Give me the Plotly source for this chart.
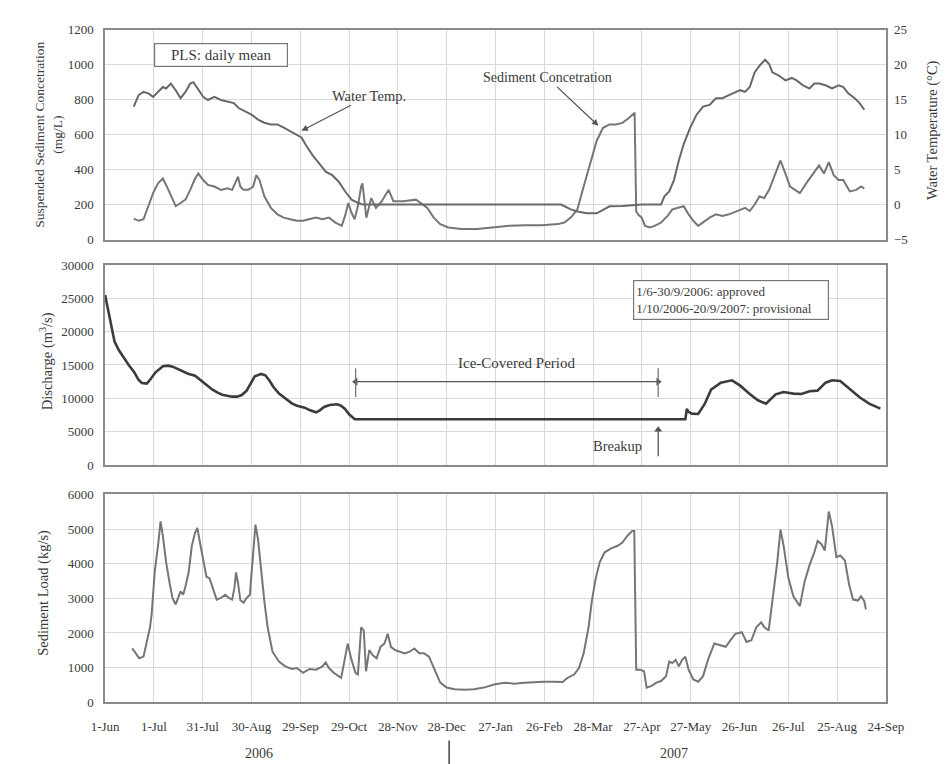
import plotly.graph_objects as go
import pandas as pd

# ---------------- data (days since 1-Jun-2006) ----------------
ssc_days = [17.6, 20.6, 23.6, 26.6, 29.5, 32.5, 35.5, 37.5, 40.4, 43.4, 46.4, 49.4, 52.3, 55.3, 57.3,
            60.3, 63.2, 67.2, 71.2, 75.1, 78.1, 80.1, 81.7, 83.1, 85.0, 88.0, 91.0, 92.9, 94.9, 97.9,
            101.9, 105.9, 109.8, 113.8, 117.8, 121.7, 125.7, 129.6, 133.6, 137.6, 141.6, 145.5, 147.5,
            149.5, 151.5, 153.4, 155.4, 157.4, 158.2, 160.6, 163.6, 166.5, 170.1, 174.3, 177.2, 183.2,
            191.1, 194.1, 198.1, 202.0, 206.0, 211.0, 218.9, 228.8, 238.7, 248.6, 258.6, 268.5, 278.4,
            282.3, 286.3, 290.3, 294.2, 298.2, 302.2, 306.1, 310.1, 314.0, 318.0, 322.0, 325.5, 326.5,
            328.0, 329.9, 331.9, 334.9, 337.8, 341.8, 345.8, 348.7, 352.7, 355.7, 358.7, 361.6, 364.6,
            367.6, 371.6, 375.5, 379.5, 383.5, 388.4, 393.4, 396.3, 399.3, 402.3, 405.2, 408.2, 411.2,
            415.2, 418.2, 421.1, 424.1, 427.1, 431.0, 435.0, 438.9, 441.9, 444.9, 447.9, 450.9, 453.8,
            457.8, 461.8, 464.7, 466.7]
ssc_vals = [119, 107, 116, 191, 265, 321, 349, 312, 247, 191, 209, 228, 284, 349, 377,
            340, 312, 303, 284, 293, 284, 321, 359, 303, 284, 284, 303, 368, 340, 247,
            181, 144, 125, 116, 107, 107, 116, 125, 116, 125, 97, 78, 135,
            209, 153, 116, 191, 303, 321, 125, 237, 181, 219, 284, 219, 219,
            228, 209, 181, 125, 88, 69, 60, 60, 69, 78, 82, 82, 88,
            97, 125, 172, 303, 434, 565, 639, 658, 658, 667, 695, 725, 160,
            140, 125, 78, 69, 78, 97, 135, 172, 181, 191, 144, 107, 78,
            97, 125, 144, 135, 144, 163, 181, 163, 200, 247, 237, 284, 359,
            452, 377, 303, 284, 265, 321, 377, 424, 377, 443, 368, 340, 340,
            275, 284, 303, 293]

temp_days = [17.6, 20.6, 23.6, 26.6, 29.5, 32.5, 35.5, 37.5, 40.4, 43.4, 46.4, 49.4, 52.3, 54.3, 57.3,
             60.3, 63.2, 67.2, 71.2, 75.1, 79.1, 82.1, 86.1, 90.0, 94.0, 97.9, 101.9, 105.9, 109.8,
             113.8, 117.8, 120.7, 123.7, 127.7, 131.7, 135.6, 139.6, 143.5, 147.5, 151.5, 155.4, 158.0,
             280.3, 286.3, 290.3, 296.2, 302.2, 306.1, 310.1, 318.0, 323.0, 330.0, 341.8, 343.8, 346.8,
             349.7, 352.7, 355.7, 359.7, 363.6, 367.6, 371.6, 375.5, 379.5, 383.5, 387.4, 390.4, 393.4,
             396.3, 399.3, 402.3, 405.7, 408.2, 410.2, 414.2, 418.2, 422.1, 425.1, 429.0, 433.0, 436.0,
             438.9, 442.9, 446.9, 450.9, 453.8, 456.8, 460.8, 463.8, 466.7]
temp_vals = [14.0, 15.65, 16.1, 15.9, 15.4, 16.1, 16.8, 16.6, 17.3, 16.35, 15.2, 16.1, 17.3, 17.5, 16.35,
             15.4, 14.95, 15.4, 14.95, 14.7, 14.5, 13.8, 13.3, 12.85, 12.15, 11.7, 11.45, 11.45, 11.0,
             10.5, 10.05, 9.6, 8.4, 7.0, 5.85, 4.7, 4.2, 3.3, 1.9, 0.7, 0.25, 0.0,
             0.0, -0.7, -1.0, -1.25, -1.25, -0.8, -0.25, -0.2, -0.1, 0.0, 0.0, 1.17, 1.87,
             3.5, 6.3, 8.65, 11.0, 12.85, 14.0, 14.25, 15.2, 15.2, 15.65, 16.1, 16.35, 16.1,
             16.8, 18.9, 19.85, 20.7, 20.1, 18.9, 18.45, 17.75, 18.1, 17.75, 17.05, 16.6, 17.3,
             17.3, 17.05, 16.6, 17.05, 16.8, 15.9, 15.2, 14.5, 13.55]

q_days = [0, 2.5, 5.8, 8.5, 11.7, 14.5, 17.7, 20.5, 22.6, 25.6, 28, 31, 35.5, 39, 41.5, 44.5, 47.4, 51,
          55.3, 59, 63.2, 66, 69.2, 72, 75.1, 78, 81.1, 84, 87, 89.5, 92, 95.9, 98.5, 100.9, 103.5,
          106.9, 110, 114.8, 118, 122.7, 126, 129.7, 132, 134.6, 138, 142.6, 145, 147.5, 150, 153.5,
          356.7, 357.6, 358.5, 360.6, 364.6, 368.6, 372.5, 378.5, 385.4, 390.4, 396.3, 401.3, 406.3,
          412.2, 417.1, 423.1, 428.1, 433.0, 437.9, 442.9, 446.9, 451.9, 457.8, 463.8, 469.7, 476.6]
q_vals = [25500, 22500, 18500, 17200, 16000, 15000, 14000, 12800, 12300, 12200, 12900, 13900, 14800,
          14900, 14750, 14400, 14100, 13700, 13400, 12700, 11900, 11300, 10850, 10550, 10400, 10250,
          10250, 10500, 11150, 12300, 13300, 13650, 13450, 12700, 11700, 10700, 10100, 9250, 8900,
          8600, 8200, 7900, 8200, 8700, 9000, 9100, 8900, 8400, 7600, 6850,
          6850, 8400, 8000, 7700, 7650, 9150, 11300, 12350, 12700, 11900, 10650, 9700, 9200,
          10600, 10950, 10700, 10650, 11050, 11150, 12350, 12700, 12600, 11400, 10150, 9200, 8450]

load_days = [16.7, 18.6, 21.0, 23.6, 25.6, 27.6, 28.6, 30.5, 32.5, 34.1, 35.5, 37.5, 39.5, 41.4, 43.4,
             45.0, 46.4, 48.0, 49.4, 51.4, 53.3, 55.3, 56.7, 58.3, 60.3, 62.3, 64.2, 66.2, 68.6, 71.2,
             73.8, 76.1, 78.1, 79.5, 80.5, 81.7, 83.1, 85.1, 87.0, 89.0, 91.0, 92.4, 94.0, 96.0, 97.9,
             99.9, 102.9, 106.9, 110.8, 114.8, 117.8, 121.7, 125.7, 129.7, 133.6, 135.6, 137.6, 140.6,
             143.5, 145.1, 146.5, 149.1, 151.5, 153.9, 155.4, 157.4, 159.0, 160.4, 162.4, 164.4, 166.9,
             169.3, 171.7, 173.7, 175.7, 178.2, 181.2, 184.2, 187.2, 190.1, 193.1, 196.1, 199.1, 202.0,
             206.0, 210.0, 214.9, 220.9, 226.8, 232.8, 239.7, 245.7, 251.6, 257.6, 263.5, 269.5, 275.4,
             281.3, 284.3, 288.3, 291.3, 294.2, 297.2, 299.2, 301.6, 304.1, 307.1, 311.1, 315.1, 318.0,
             321.0, 324.0, 325.3, 326.5, 328.9, 331.3, 332.9, 335.9, 338.9, 341.8, 344.8, 346.8, 348.7,
             350.7, 352.7, 354.7, 356.7, 358.7, 361.6, 364.6, 367.6, 370.6, 374.5, 378.5, 381.5, 384.4,
             387.4, 391.4, 394.3, 397.3, 400.3, 403.3, 405.3, 407.9, 410.2, 413.2, 415.2, 417.1, 420.1,
             423.1, 427.1, 430.0, 433.0, 436.0, 438.0, 440.4, 442.4, 444.9, 446.9, 449.5, 451.9, 454.8,
             457.4, 459.8, 462.8, 464.7, 466.7, 467.7]
load_vals = [1553, 1412, 1270, 1317, 1788, 2164, 2541, 3764, 4517, 5223, 4799, 4046, 3482, 3011, 2823,
             3011, 3199, 3105, 3341, 3764, 4517, 4893, 5034, 4611, 4093, 3623, 3576, 3294, 2964, 3011,
             3105, 3011, 2964, 3300, 3750, 3450, 2950, 2870, 3011, 3105, 4235, 5128, 4705, 3670, 2917,
             2164, 1459, 1176, 1035, 960, 988, 847, 960, 941, 1035, 1148, 988, 847,
             753, 706, 1035, 1694, 1223, 847, 800, 2164, 2070, 894, 1506, 1364, 1270,
             1600, 1694, 1976, 1600, 1506, 1459, 1412, 1459, 1553, 1412, 1412, 1317, 988,
             565, 423, 376, 358, 376, 423, 518, 565, 536, 565, 583, 593, 593,
             583, 706, 800, 988, 1412, 2164, 2917, 3576, 4046, 4329, 4442, 4517, 4611,
             4799, 4940, 4940, 941, 941, 894, 423, 471, 565, 612, 753, 1176, 1129,
             1223, 1035, 1223, 1317, 941, 659, 593, 753, 1223, 1694, 1647, 1600, 1788,
             1976, 2023, 1741, 1788, 2164, 2305, 2164, 2070, 2917, 4046, 4987, 4517, 3576,
             3058, 2776, 3482, 3952, 4329, 4658, 4564, 4376, 5505, 5081, 4188, 4235, 4093,
             3388, 2964, 2936, 3058, 2917, 2682]

tick_labels = ["1-Jun", "1-Jul", "31-Jul", "30-Aug", "29-Sep", "29-Oct", "28-Nov", "28-Dec", "27-Jan",
               "26-Feb", "28-Mar", "27-Apr", "27-May", "26-Jun", "26-Jul", "25-Aug", "24-Sep"]
tick_step_days = 30
ice_start_day, ice_end_day = 154, 340
year_labels = ["2006", "2007"]

# ---------------- helpers ----------------
BASE = pd.Timestamp("2006-06-01")


def to_dates(days):
    return [BASE + pd.Timedelta(days=float(d)) for d in days]


tick_dates = to_dates([i * tick_step_days for i in range(len(tick_labels))])
x_range = [tick_dates[0], tick_dates[-1]]

W, H = 951, 764
FONT = "Liberation Serif"
TXT = "#3a3a3a"
GRID = "#d9d9d9"
FRAME = "#8a8a8a"
LINE = "#767676"
ACOL = "#555555"


def ydom(top, bottom):
    return [1 - bottom / H, 1 - top / H]


xdom = [86 / W, 894 / W]
ice_s = BASE + pd.Timedelta(days=ice_start_day)
ice_e = BASE + pd.Timedelta(days=ice_end_day)

fig = go.Figure()
fig.add_trace(go.Scatter(x=to_dates(ssc_days), y=ssc_vals, mode="lines", name="Sediment Concentration",
                         line=dict(color=LINE, width=2), xaxis="x", yaxis="y"))
fig.add_trace(go.Scatter(x=to_dates(temp_days), y=temp_vals, mode="lines", name="Water Temp.",
                         line=dict(color="#686868", width=2), xaxis="x", yaxis="y4"))
fig.add_trace(go.Scatter(x=to_dates(q_days), y=q_vals, mode="lines", name="Discharge",
                         line=dict(color="#3c3c3c", width=2.6), xaxis="x2", yaxis="y2"))
fig.add_trace(go.Scatter(x=to_dates(load_days), y=load_vals, mode="lines", name="Sediment Load",
                         line=dict(color=LINE, width=2), xaxis="x3", yaxis="y3"))
# arrowheads for the ice-covered period and breakup arrows
fig.add_trace(go.Scatter(x=[ice_s, ice_e, ice_e], y=[12500, 12500, 5300], mode="markers",
                         marker=dict(symbol=["triangle-left", "triangle-right", "triangle-up"], size=7,
                                     color=ACOL),
                         xaxis="x2", yaxis="y2", hoverinfo="skip"))

xcommon = dict(type="date", range=x_range, tickvals=tick_dates, ticktext=tick_labels, domain=xdom,
               showgrid=True, gridcolor=GRID, gridwidth=1.2, showline=True, mirror=True,
               linecolor=FRAME, linewidth=1.6, zeroline=False,
               tickfont=dict(family=FONT, size=13, color=TXT))
ycommon = dict(showgrid=True, gridcolor=GRID, gridwidth=1.2, showline=True, mirror=True,
               linecolor=FRAME, linewidth=1.6, zeroline=False, tickformat="d",
               tickfont=dict(family=FONT, size=13, color=TXT), ticklabelstandoff=7)

fig.update_layout(
    width=W, height=H, paper_bgcolor="white", plot_bgcolor="white", showlegend=False,
    margin=dict(l=0, r=0, t=0, b=0),
    xaxis=dict(xcommon, anchor="y", showticklabels=False),
    xaxis2=dict(xcommon, anchor="y2", showticklabels=False, matches="x"),
    xaxis3=dict(xcommon, anchor="y3", showticklabels=True, matches="x", ticklabelstandoff=11),
    yaxis=dict(ycommon, domain=ydom(15, 229), range=[0, 1200], dtick=200, anchor="x"),
    yaxis4=dict(overlaying="y", side="right", range=[-5, 25], dtick=5, anchor="x", showgrid=False,
                zeroline=False, showline=False, tickfont=dict(family=FONT, size=13, color=TXT),
                ticklabelstandoff=7),
    yaxis2=dict(ycommon, domain=ydom(255, 459), range=[0, 30000], dtick=5000, anchor="x2"),
    yaxis3=dict(ycommon, domain=ydom(489, 701), range=[0, 6000], dtick=1000, anchor="x3"),
)


def px(x):
    return x / W


def py(y):
    return 1 - y / H


C = dict(xanchor="center", yanchor="middle")
ARW = dict(arrowhead=2, arrowsize=1, arrowwidth=1.3, arrowcolor=ACOL)
ann = []
tf = dict(family=FONT, color=TXT)
# axis titles
ann.append(dict(C, text="Suspended Sediment Concetration<br>(mg/L)", x=px(28), y=py(122), xref="paper",
                yref="paper", textangle=-90, showarrow=False, font=dict(tf, size=13.5)))
ann.append(dict(C, text="Water Temperature (\u00b0C)", x=px(942), y=py(117), xref="paper", yref="paper",
                textangle=-90, showarrow=False, font=dict(tf, size=14.5)))
ann.append(dict(C, text="Discharge (m<sup>3</sup>/s)", x=px(25), y=py(353), xref="paper", yref="paper",
                textangle=-90, showarrow=False, font=dict(tf, size=14.5)))
ann.append(dict(C, text="Sediment Load (kg/s)", x=px(22), y=py(589), xref="paper", yref="paper",
                textangle=-90, showarrow=False, font=dict(tf, size=14.5)))
# boxes
ann.append(dict(C, text="PLS: daily mean", x=px(206), y=py(41), xref="paper", yref="paper", showarrow=False,
                font=dict(tf, size=15), bordercolor="#777", borderwidth=1.2, borderpad=1,
                bgcolor="white", width=130, height=20))
ann.append(dict(C, text="1/6-30/9/2006: approved<br>1/10/2006-20/9/2007: provisional", x=px(734), y=py(291),
                xref="paper", yref="paper", showarrow=False, align="left", font=dict(tf, size=13),
                bordercolor="#777", borderwidth=1.2, borderpad=2, bgcolor="white", width=190, height=34))
# labels with arrows (top panel): text placed at pixel offset from the arrow head
ann.append(dict(ARW, text="Water Temp.", x=BASE + pd.Timedelta(days=120.7), y=622, xref="x", yref="y",
                showarrow=True, ax=68, ay=-35, font=dict(tf, size=14.5)))
ann.append(dict(ARW, text="Sediment Concetration", x=BASE + pd.Timedelta(days=303.3), y=650, xref="x",
                yref="y", showarrow=True, ax=-51, ay=-48, standoff=0, font=dict(tf, size=14)))
# ice-covered period / breakup labels
ann.append(dict(C, text="Ice-Covered Period", x=px(512), y=py(355), xref="paper", yref="paper",
                showarrow=False, font=dict(tf, size=15)))
ann.append(dict(C, text="Breakup", x=px(616), y=py(440), xref="paper", yref="paper", showarrow=False,
                font=dict(tf, size=14.5)))
# years
ann.append(dict(C, text=year_labels[0], x=px(245), y=py(753), xref="paper", yref="paper", showarrow=False,
                font=dict(tf, size=14)))
ann.append(dict(C, text=year_labels[1], x=px(675), y=py(753), xref="paper", yref="paper", showarrow=False,
                font=dict(tf, size=14)))
fig.update_layout(annotations=ann)

shapes = []
for d in (ice_s, ice_e):
    shapes.append(dict(type="line", xref="x2", yref="y2", x0=d, x1=d, y0=10200, y1=14500,
                       line=dict(color="#777", width=1.3)))
shapes.append(dict(type="line", xref="x2", yref="y2", x0=ice_s, x1=ice_e, y0=12500, y1=12500,
                   line=dict(color=ACOL, width=1.3)))
shapes.append(dict(type="line", xref="x2", yref="y2", x0=ice_e, x1=ice_e, y0=1300, y1=5300,
                   line=dict(color=ACOL, width=1.3)))
shapes.append(dict(type="line", xref="paper", yref="paper", x0=px(442), x1=px(442), y0=py(740), y1=py(764),
                   line=dict(color="#444", width=1.5)))
fig.update_layout(shapes=shapes)

fig.write_html("out.html")
